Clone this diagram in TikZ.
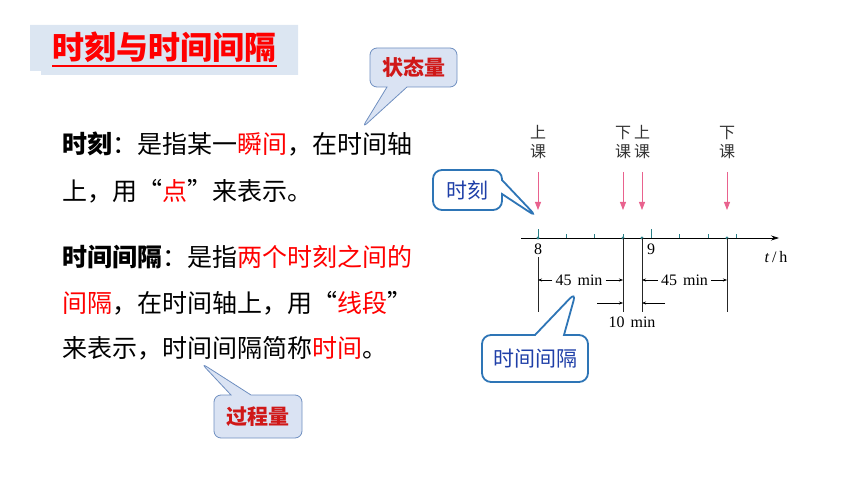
\documentclass[tikz,border=0pt]{standalone}
\usepackage{fontspec}
\setmainfont{Noto Sans CJK SC}
\newfontfamily\numfont{Liberation Serif}
\usetikzlibrary{shapes.callouts,arrows.meta}
\definecolor{titlebg}{HTML}{DCE6F2}
\definecolor{notebg}{HTML}{DAE3F3}
\definecolor{notebd}{HTML}{6F8FC0}
\definecolor{notetx}{HTML}{D01818}
\definecolor{tagbd}{HTML}{2E75B6}
\definecolor{tagtx}{HTML}{1F3FA8}
\definecolor{pinkarr}{HTML}{E9628E}
\definecolor{tickcol}{HTML}{2A7F86}
\tikzset{
  txtline/.style={anchor=west, inner sep=0pt, font=\fontsize{25}{25}\selectfont},
  notebox/.style={rectangle callout, rounded corners=7pt, draw=notebd, fill=notebg, line width=0.8pt, text=notetx, inner sep=0pt, font=\bfseries\fontsize{21}{21}\selectfont},
  tagbox/.style={rectangle callout, rounded corners=9pt, draw=tagbd, fill=white, line width=1.8pt, text=tagtx, inner sep=0pt, font=\fontsize{21}{21}\selectfont},
  kelbl/.style={align=center, text=black!80, inner sep=0pt, font=\fontsize{16}{19}\selectfont},
  numlbl/.style={inner sep=0pt, font=\numfont\fontsize{16}{16}\selectfont},
  downarr/.style={pinkarr, line width=0.8pt, -{Triangle[length=8pt,width=6pt]}},
  dimarr/.style={line width=0.5pt, -{Stealth[length=4pt,width=3pt]}},
  vline/.style={black!85, line width=0.7pt},
}
\newcommand\qleft{\makebox[1em][l]{“}}
\newcommand\qright{\makebox[1em][l]{”}}
\begin{document}
\begin{tikzpicture}[x=1pt,y=-1pt]
\useasboundingbox (0,0) rectangle (860,484);

% title
\fill[titlebg] (30,25) -- (298,25) -- (298,75) -- (41,75) -- (41,71) -- (30,71) -- cycle;
\node[text=red, inner sep=0pt, font=\bfseries\fontsize{32}{32}\selectfont] (title) at (164.5,47) {时刻与时间间隔};
\draw[red, line width=2pt] (52,66) -- (277,66);

% text
\node[txtline] (l1) at (62,144) {\textbf{时刻}：是指某一\textcolor{red}{瞬间}，在时间轴};
\node[txtline] (l2) at (62,191) {上，用\qleft\textcolor{red}{点}\qright 来表示。};
\node[txtline] (l3) at (62,257) {\textbf{时间间隔}：是指\textcolor{red}{两个时刻之间的}};
\node[txtline] (l4) at (62,303) {\textcolor{red}{间隔}，在时间轴上，用\qleft\textcolor{red}{线段}\qright};
\node[txtline] (l5) at (62,348) {来表示，时间间隔简称\textcolor{red}{时间}。};

% time axis
\coordinate (ax0) at (521,238);
\coordinate (ax1) at (779,238);
\draw[line width=0.7pt, -{Stealth[length=8pt,width=5pt]}] (ax0) -- (ax1);
\foreach \x in {566,594.5,623,679.5,708,736}
  \draw[tickcol, line width=0.6pt] (\x,238) -- (\x,234);
\foreach \x in {538,651}
  \draw[tickcol, line width=0.6pt] (\x,238) -- (\x,229);
\node[numlbl] (h8) at (538,249) {8};
\node[numlbl] (h9) at (651,249) {9};
\node[numlbl] (unit) at (776,257) {\textit{t}\,/\,h};

\foreach \x/\ch/\n in {538/上/a, 623/下/b, 642/上/c, 727/下/d} {
  \node[kelbl] (k\n) at (\x,142.5) {\ch\\课};
  \coordinate (q\n) at (\x,172);
  \coordinate (p\n) at (\x,210);
  \coordinate (e\n) at (\x,312);
  \draw[downarr] (q\n) -- (p\n);
  \fill[tickcol] (\x,238) circle (1.6);
}
\coordinate (sa) at (538,257);
\draw[vline] (sa) -- (ea);
\foreach \n in {b,c,d}
  \draw[vline] (p\n |- ax0) -- (e\n);

% durations
\node[numlbl, inner sep=3pt] (d1) at (579,280) {45\hspace{6pt}min};
\node[numlbl, inner sep=3pt] (d2) at (684.5,280) {45\hspace{6pt}min};
\draw[dimarr] (d1.west) -- (d1.west -| pa);
\draw[dimarr] (d1.east) -- (d1.east -| pb);
\draw[dimarr] (d2.west) -- (d2.west -| pc);
\draw[dimarr] (d2.east) -- (d2.east -| pd);
\coordinate (m1) at (597,303);
\coordinate (m2) at (665,303);
\draw[dimarr] (m1) -- (m1 -| pb);
\draw[dimarr] (m2) -- (m2 -| pc);
\node[numlbl] (d3) at (632,322) {10\hspace{6pt}min};

% callouts
\node[notebox, minimum width=87pt, minimum height=39pt, callout absolute pointer={(362,128)}, callout pointer width=20pt] (state) at (413.5,67.5) {状态量};
\node[notebox, minimum width=88pt, minimum height=43pt, callout absolute pointer={(201,363)}, callout pointer width=20pt] (proc) at (258,416.5) {过程量};
\node[tagbox, minimum width=69pt, minimum height=40pt, callout absolute pointer={(537,217)}, callout pointer width=14pt] (mom) at (467.5,190) {时刻};
\node[tagbox, minimum width=106pt, minimum height=47pt, callout absolute pointer={(576,292)}, callout pointer width=29pt] (span) at (535,358.5) {时间间隔};
\end{tikzpicture}
\end{document}
